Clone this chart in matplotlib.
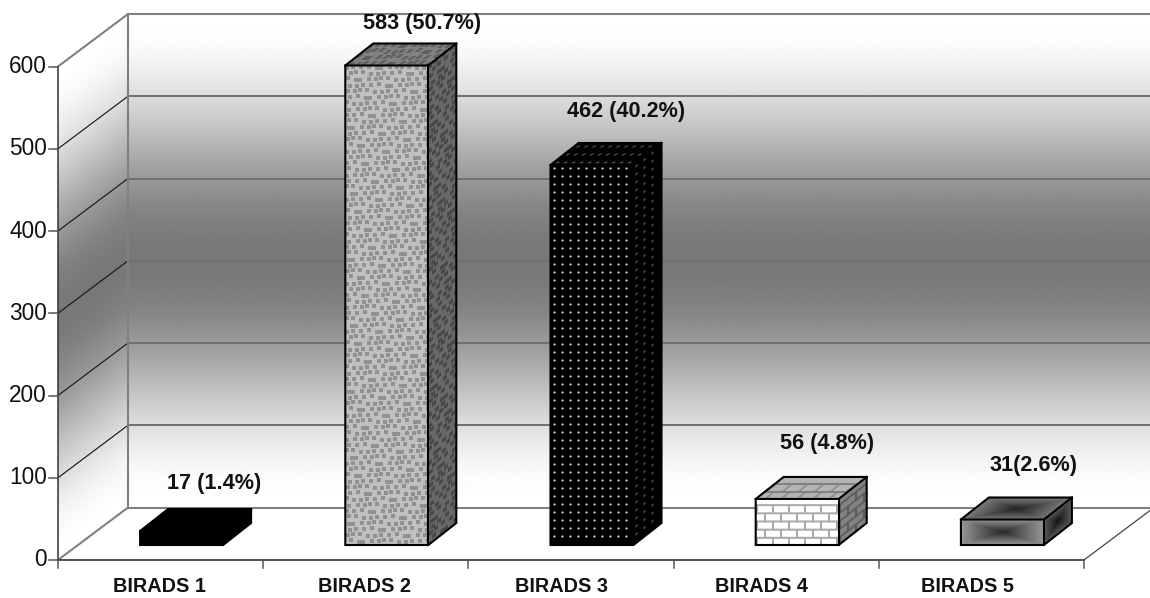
import numpy as np
import matplotlib
matplotlib.use("Agg")
import matplotlib.pyplot as plt
from matplotlib.patches import Polygon
from matplotlib.transforms import Affine2D

plt.rcParams['font.family'] = ['Liberation Sans', 'DejaVu Sans']

categories = ["BIRADS 1", "BIRADS 2", "BIRADS 3", "BIRADS 4", "BIRADS 5"]
counts = [17, 583, 462, 56, 31]
value_labels = ["17 (1.4%)", "583 (50.7%)", "462 (40.2%)", "56 (4.8%)", "31(2.6%)"]
y_ticks = [0, 100, 200, 300, 400, 500, 600]
category_label_px = [159, 364, 561.5, 761, 967]

W, H = 1150, 598
PX_X = 205.2          # pixels per category
PX_Y = (560 - 66.5) / 600.0   # pixels per count
X0, Y0 = 58, 560      # pixel position of the origin
DEPTH_DX, DEPTH_DY = 70, 52.5   # oblique offset of the back wall


def dx(px):
    return px / PX_X


def dy(px):
    return px / PX_Y


fig = plt.figure(figsize=(W / 100, H / 100), dpi=100)
ax = fig.add_axes([0, 0, 1, 1])
ax.set_xlim(-X0 / PX_X, (W - X0) / PX_X)
ax.set_ylim(-(H - Y0) / PX_Y, Y0 / PX_Y)
ax.axis("off")


def skewed_image(arr, origin, u, v, zorder):
    """Paint arr on the parallelogram origin, origin+u, origin+v (array row 0 at the +v side)."""
    m = Affine2D.from_values(u[0], u[1], v[0], v[1], origin[0], origin[1])
    im = ax.imshow(arr, extent=(0, 1, 0, 1), origin="upper", cmap="gray", vmin=0, vmax=255,
                   transform=m + ax.transData, zorder=zorder, aspect="auto",
                   interpolation="bilinear")
    poly = Polygon([origin, (origin[0] + u[0], origin[1] + u[1]),
                    (origin[0] + u[0] + v[0], origin[1] + u[1] + v[1]),
                    (origin[0] + v[0], origin[1] + v[1])], closed=True,
                   transform=ax.transData, fc="none", ec="none")
    ax.add_patch(poly)
    im.set_clip_path(poly)
    return im


def wall_gradient(n=493):
    t = np.linspace(0, 1, n)
    # white at both ends, darkest at mid height
    g = 255 - 135 * np.sin(np.pi * t) ** 2
    return g[:, None]


xmax = 5.0
top = 600.0
back_dx, back_dy = dx(DEPTH_DX), dy(DEPTH_DY)
edge_c = "#808080"
grid_c = "#6f6f6f"

# back wall, running to the right edge of the figure
skewed_image(wall_gradient(), (back_dx, back_dy), (xmax, 0), (0, top), 1)
# side wall
skewed_image(wall_gradient(), (0, 0), (back_dx, back_dy), (0, top), 1)

# gridlines on both walls
for t in y_ticks[1:-1]:
    ax.plot([0, back_dx], [t, t + back_dy], color="#111111", lw=0.8, zorder=2)
    ax.plot([back_dx, xmax + back_dx], [t + back_dy] * 2, color=grid_c, lw=1.4, zorder=2)
ax.plot([back_dx, xmax + back_dx], [back_dy] * 2, color=edge_c, lw=1.5, zorder=2)
ax.plot([0, back_dx], [0, back_dy], color=edge_c, lw=1.5, zorder=2)
ax.plot([back_dx, back_dx], [back_dy, top + back_dy], color=edge_c, lw=1.5, zorder=2)
ax.plot([0, back_dx], [top, top + back_dy], color=edge_c, lw=1.5, zorder=2)
ax.plot([back_dx, xmax + back_dx], [top + back_dy] * 2, color=edge_c, lw=1.5, zorder=2)
ax.plot([xmax, xmax + back_dx], [0, back_dy], color="#444444", lw=0.9, zorder=2)

# axis lines and ticks
ax.plot([0, 0], [0, top], color="#333333", lw=1.1, zorder=3)
ax.plot([0, xmax], [0, 0], color="#222222", lw=1.1, zorder=3)
for t in y_ticks:
    ax.plot([-dx(9), 0], [t, t], color="#555555", lw=1.1, zorder=3)
    ax.text(-dx(11), t, str(t), ha="right", va="center", fontsize=16.3, color="#111111")
for i in range(6):
    ax.plot([i, i], [0, -dy(8)], color="#555555", lw=1.1, zorder=3)
for c, px in zip(categories, category_label_px):
    ax.text((px - X0) / PX_X, -dy(26.5), c, ha="center", va="center", fontsize=14.3,
            fontweight="bold", color="#111111")


# ---- face textures, in screen pixels ----
def dots_tile(w, h, base, peak, px, py):
    a = np.full((h, w), float(base))
    for y in range(3, h - 2, py):
        for x in range(3, w - 2, px):
            a[y - 1:y + 2, x - 1:x + 2] = peak * 0.15
            a[y - 1:y + 2, x] = peak * 0.45
            a[y, x - 1:x + 2] = peak * 0.45
            a[y, x] = peak
    return a


def speckle(w, h, base, dot):
    a = np.full((h, w), float(base))
    jitter_x = [0, 1, -1, 1, 0, -1, 1, -1, 2, 0, -1]
    jitter_y = [1, -1, 0, 1, -1, 0, 1, -1, 0, 1, 0]
    for r, y in enumerate(range(0, h, 6)):
        off = 3 if r % 2 else 0
        for c, x in enumerate(range(off, w, 7)):
            xx = max(x + jitter_x[(r * 3 + c * 2) % 11], 0)
            yy = max(y + jitter_y[(r * 2 + c * 5) % 11], 0)
            a[yy:yy + 4, xx:xx + 4] = dot
    return a


def bricks(w, h, base, mortar):
    a = np.full((h, w), float(base))
    for r, y in enumerate(range(h % 8, h, 8)):
        a[y:y + 2, :] = mortar
        off = 8 if r % 2 else 0
        for x in range(off, w, 16):
            a[y:y + 8, x:x + 2] = mortar
    return a


def box_gradient(w, h, edge, center):
    xs = np.abs(np.linspace(-1, 1, w))
    ys = np.abs(np.linspace(-1, 1, h))
    d = np.maximum(xs[None, :], ys[:, None])
    return center + (edge - center) * d


def faces(kind, w, h, dw, dh):
    if kind == "solid":
        return np.zeros((h, w)), np.zeros((dh, w)), np.zeros((h, dw))
    if kind == "speckle":
        return speckle(w, h, 192, 145), speckle(w, dh, 130, 95), speckle(dw, h, 105, 72)
    if kind == "dots":
        return dots_tile(w, h, 0, 245, 8, 8), dots_tile(w, dh, 0, 130, 8, 8), \
            dots_tile(dw, h, 0, 110, 8, 8)
    if kind == "bricks":
        return bricks(w, h, 255, 170), bricks(w, dh, 180, 130), bricks(dw, h, 130, 90)
    return box_gradient(w, h, 150, 40), box_gradient(w, dh, 120, 35), box_gradient(dw, h, 90, 20)


kinds = ["solid", "speckle", "dots", "bricks", "box"]
bar_w_px = 83
bar_dx_px, bar_dy_px = 28, 22
front_dx_px, front_dy_px = 21, 15

for i, (v, kind) in enumerate(zip(counts, kinds)):
    left = i + 0.5 - dx(bar_w_px) / 2 + dx(front_dx_px)
    base = dy(front_dy_px)
    w, d_x, d_y = dx(bar_w_px), dx(bar_dx_px), dy(bar_dy_px)
    h_px = max(int(round(v * PX_Y)), 2)
    front, tp, side = faces(kind, bar_w_px, h_px, bar_dx_px, bar_dy_px)
    skewed_image(front, (left, base), (w, 0), (0, v), 5)
    skewed_image(tp, (left, base + v), (w, 0), (d_x, d_y), 5)
    skewed_image(side, (left + w, base), (d_x, d_y), (0, v), 5)
    outline = [(left, base), (left + w, base), (left + w + d_x, base + d_y),
               (left + w + d_x, base + d_y + v), (left + d_x, base + d_y + v), (left, base + v)]
    ax.add_patch(Polygon(outline, closed=True, fc="none", ec="black", lw=1.5, zorder=6))
    ax.plot([left, left + w, left + w + d_x], [base + v, base + v, base + d_y + v], color="black",
            lw=1.5, zorder=6)
    ax.plot([left + w, left + w], [base, base + v], color="black", lw=1.5, zorder=6)

# value labels
label_px = [(214.5, 484), (422, 24), (626, 112), (827, 444), (1033.5, 465)]
for (px, py), s in zip(label_px, value_labels):
    ax.text((px - X0) / PX_X, (Y0 - py) / PX_Y, s, ha="center", va="center", fontsize=15.6,
            fontweight="bold", color="#111111", zorder=7)

fig.savefig("out.png", dpi=100)
